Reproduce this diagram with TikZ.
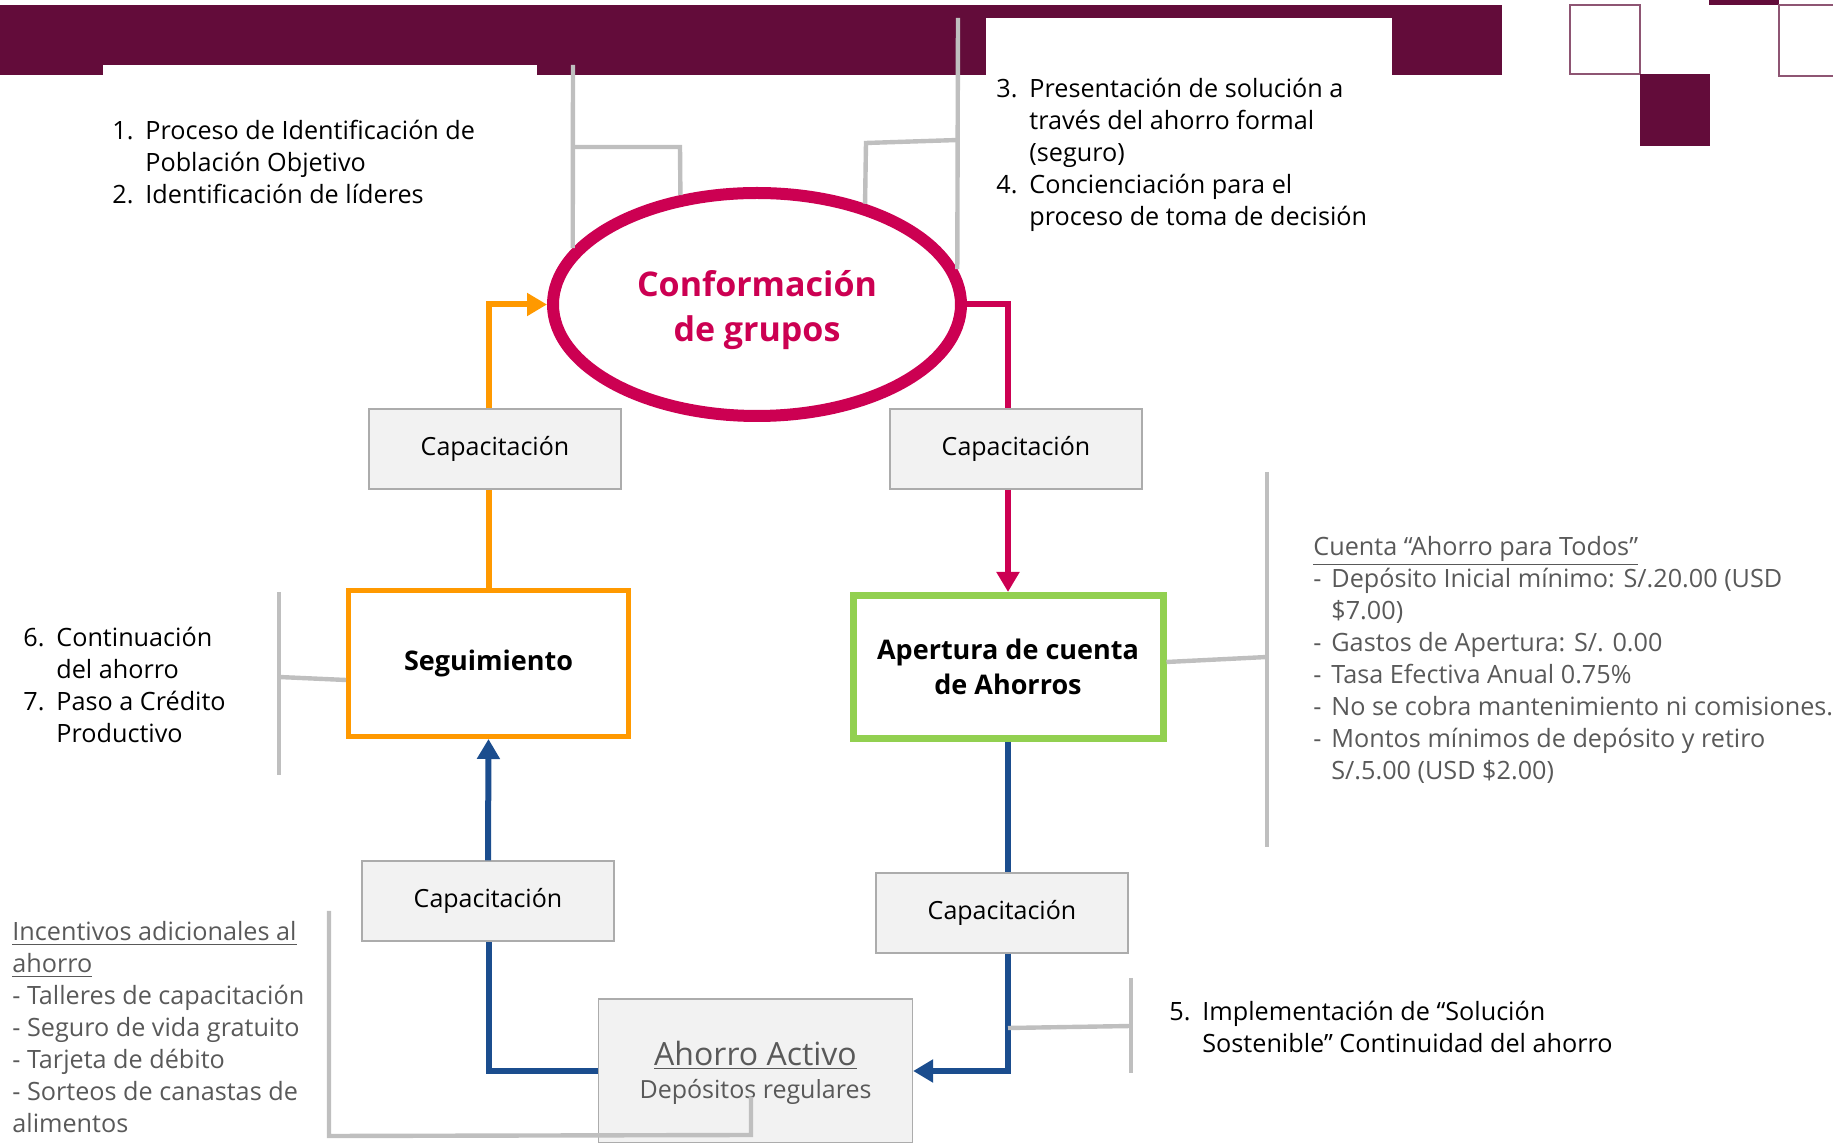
\documentclass[tikz,border=0pt]{standalone}
\usepackage{fontspec}
\setmainfont{Open Sans}
\usetikzlibrary{arrows.meta,shapes.geometric}

\definecolor{vino}{HTML}{630C3A}
\definecolor{vinoline}{HTML}{8E5573}
\definecolor{rosa}{HTML}{CC0052}
\definecolor{naranja}{HTML}{FF9900}
\definecolor{verde}{HTML}{92D050}
\definecolor{azul}{HTML}{1B4D8E}
\definecolor{gris}{HTML}{BFBFBF}
\definecolor{grisbox}{HTML}{F2F2F2}
\definecolor{gristxt}{HTML}{595959}

\newcommand{\itemno}[1]{\makebox[16.5pt][l]{#1}}
\newcommand{\sangria}{\hspace*{16.5pt}}
\newcommand{\guion}{\makebox[9pt][l]{-}}
\newcommand{\bajar}[2]{\raisebox{-#1}[\height][\depth]{#2}}

\tikzset{
  capbox/.style={draw=gris!90!black, fill=grisbox, line width=0.6pt, minimum width=126pt, minimum height=40pt, inner sep=0pt, font=\fontsize{12.5}{15}\selectfont},
  lista/.style={anchor=west, align=left, inner sep=0pt, font=\fontsize{12.6}{16}\selectfont},
  flecha/.style={line width=3pt, -{Triangle[length=10pt,width=11pt]}},
  callout/.style={gris, line width=2.2pt},
}

\begin{document}
\begin{tikzpicture}[x=0.5pt,y=-0.5pt]
  \useasboundingbox (0,0) rectangle (1833,1143);

  % banda superior
  \fill[vino] (0,5) rectangle (1502,75);
  \fill[white] (103,65) rectangle (537,76);
  \fill[white] (986,18) rectangle (1392,76);
  \draw[vinoline, line width=0.8pt] (1570,5) rectangle (1640,74);
  \fill[vino] (1640,74) rectangle (1710,146);
  \fill[vino] (1709,0) rectangle (1779,5);
  \draw[vinoline, line width=0.8pt] (1779,5) rectangle (1840,76);

  % ciclo
  \node[ellipse, draw=rosa, line width=6pt, fill=white, minimum width=204pt, minimum height=111.5pt, inner sep=0pt, text=rosa, align=center, font=\bfseries\fontsize{17}{22.5}\selectfont] (grp) at (757,304.5) {\bajar{3pt}{Conformación}\\\bajar{3pt}{de grupos}};
  \node[capbox] (capA) at (495,449) {Capacitación};
  \node[capbox] (capB) at (1016,449) {Capacitación};
  \node[capbox] (capC) at (1002,913) {Capacitación};
  \node[capbox] (capD) at (488,901) {Capacitación};
  \node[draw=naranja, line width=2.5pt, minimum width=140pt, minimum height=73pt, font=\bfseries\fontsize{13.5}{17.5}\selectfont] (seg) at (488.5,663.5) {Seguimiento};
  \node[draw=verde, line width=3.5pt, minimum width=155pt, minimum height=71.5pt, align=center, font=\bfseries\fontsize{13.5}{17.5}\selectfont] (apt) at (1008,667) {Apertura de cuenta\\de Ahorros};
  \node[capbox, minimum width=157pt, minimum height=72pt, text=gristxt, align=center, font=\fontsize{12.5}{18}\selectfont] (act) at (755.5,1071) {\bajar{1.5pt}{\fontsize{16}{18}\selectfont\underline{Ahorro Activo}}\\Depósitos regulares};

  \draw[naranja, line width=3pt] (seg.north) -- (seg.north |- capA.south);
  \draw[naranja, flecha] (seg.north |- capA.north) |- (grp.west);
  \draw[rosa, line width=3pt] (grp.east) -| (apt.north |- capB.north);
  \draw[rosa, flecha] (apt.north |- capB.south) -- (apt.north);
  \draw[azul, line width=3pt] (apt.south) -- (apt.south |- capC.north);
  \draw[azul, flecha] (apt.south |- capC.south) |- (act.east);
  \draw[azul, line width=3pt] (act.west) -| (seg.south |- capD.south);
  \draw[azul, flecha] (capD.north) -- (seg.south);

  % llamadas
  \draw[callout] (573,65) -- (grp.163);
  \draw[callout] (573,147) -- (680,147) -- (grp.125);
  \draw[callout] (958,18) -- (grp.10);
  \draw[callout] (958,140) -- (866,143) -- (grp.43);
  \draw[callout] (279,592) -- (279,775);
  \draw[callout] (279,677) -- (seg.west |- 0,680);
  \draw[callout] (1267,472) -- (1267,847);
  \draw[callout] (1267,657) -- (apt.east |- 0,662);
  \draw[callout] (1131,978) -- (1131,1073);
  \draw[callout] (1131,1026) -- (apt.south |- 0,1028);
  \draw[callout] (329,911) -- (329,1136) -- (751,1135) -- (751,1097);

  \node[lista] (t12) at (112,162) {\itemno{1.}Proceso de Identificación de\\\sangria Población Objetivo\\\itemno{2.}Identificación de líderes};
  \node[lista] (t34) at (996,154.5) {\itemno{3.}Presentación de solución a\\\sangria través del ahorro formal\\\sangria (seguro)\\\itemno{4.}Concienciación para el\\\sangria proceso de toma de decisión};
  \node[lista] (t67) at (23,685) {\itemno{6.}Continuación\\\sangria del ahorro\\\itemno{7.}Paso a Crédito\\\sangria Productivo};
  \node[lista] (t5) at (1169,1027) {\itemno{5.}Implementación de “Solución\\\sangria Sostenible” Continuidad del ahorro};
  \node[lista, text=gristxt] (cuenta) at (1313,659.5) {\underline{Cuenta “Ahorro para Todos”}\\\guion Depósito Inicial mínimo: S/.20.00 (USD\\\hspace*{9pt}\$7.00)\\\guion Gastos de Apertura: S/. 0.00\\\guion Tasa Efectiva Anual 0.75\%\\\guion No se cobra mantenimiento ni comisiones.\\\guion Montos mínimos de depósito y retiro\\\hspace*{9pt}S/.5.00 (USD \$2.00)};
  \node[lista, text=gristxt] (incent) at (12,1027.5) {\underline{Incentivos adicionales al}\\\underline{ahorro}\\- Talleres de capacitación\\- Seguro de vida gratuito\\- Tarjeta de débito\\- Sorteos de canastas de\\alimentos};
\end{tikzpicture}
\end{document}
